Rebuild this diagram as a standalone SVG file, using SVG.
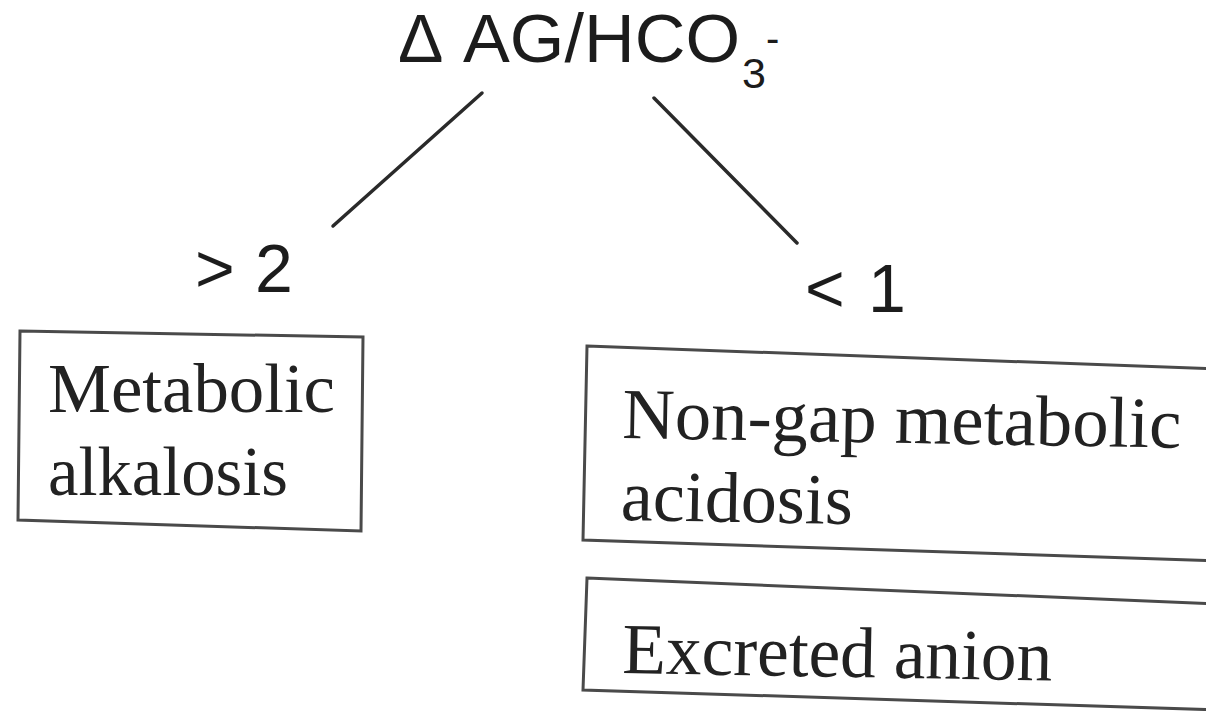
<svg xmlns="http://www.w3.org/2000/svg" width="1206" height="711" viewBox="0 0 1206 711">
<style>
.sans{font-family:"Liberation Sans",Arial,sans-serif;fill:#1c1c1c}
.serif{font-family:"Liberation Serif","Times New Roman",serif;fill:#222}
.box{fill:#fff;stroke:#4a4a4a;stroke-width:3}
.conn{stroke:#2a2a2a;stroke-width:3.5;fill:none;stroke-linecap:round}
</style>
<rect width="1206" height="711" fill="#fff"/>
<g id="title">
<text class="sans" x="398" y="62" font-size="68">Δ<tspan x="463" textLength="277" lengthAdjust="spacingAndGlyphs">AG/HCO</tspan><tspan x="742" y="88" font-size="43">3</tspan><tspan x="766" y="52" font-size="40">-</tspan></text>
</g>
<g id="connectors">
<line class="conn" x1="482" y1="93" x2="333" y2="226"/>
<line class="conn" x1="654" y1="98" x2="797" y2="243"/>
</g>
<g id="label-gt2">
<text class="sans" x="195" y="292" font-size="68">&gt;<tspan x="255">2</tspan></text>
</g>
<g id="label-lt1">
<text class="sans" x="805" y="312" font-size="68">&lt;<tspan x="868">1</tspan></text>
</g>
<g id="metabolic-alkalosis">
<polygon class="box" points="20,331 363,337 361,531 18,520"/>
<text class="serif" x="48" y="412" font-size="70" textLength="287" lengthAdjust="spacingAndGlyphs">Metabolic</text>
<text class="serif" x="48" y="495" font-size="70" textLength="240" lengthAdjust="spacingAndGlyphs">alkalosis</text>
</g>
<g id="non-gap-metabolic-acidosis">
<polygon class="box" points="587,346 1220,369 1220,561 583,540"/>
<g transform="rotate(1 622 438)">
<text class="serif" x="622" y="438" font-size="72" textLength="559" lengthAdjust="spacingAndGlyphs">Non-gap metabolic</text>
<text class="serif" x="622" y="520" font-size="72" textLength="232" lengthAdjust="spacingAndGlyphs">acidosis</text>
</g>
</g>
<g id="excreted-anion">
<polygon class="box" points="587,578 1220,604 1220,710 583,690"/>
<text class="serif" x="622" y="673" font-size="72" textLength="430" lengthAdjust="spacingAndGlyphs" transform="rotate(1 622 673)">Excreted anion</text>
</g>
</svg>
